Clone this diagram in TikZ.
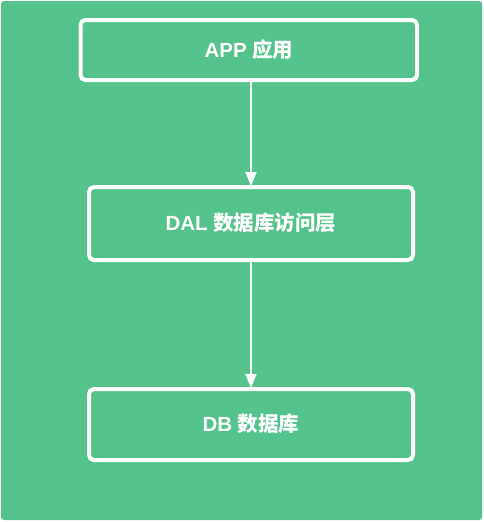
\documentclass[tikz,border=0pt]{standalone}
\usepackage{fontspec}
\setmainfont{Liberation Sans}
\newfontfamily\cjk{Noto Sans CJK SC}
\usetikzlibrary{arrows.meta}
\definecolor{bggreen}{HTML}{53C28B}
\tikzset{
  layerbox/.style={draw=white, line width=4pt, rounded corners=5pt},
  layertext/.style={text=white, font=\fontsize{20.5}{24}\selectfont\bfseries},
  flow/.style={draw=white, line width=2pt, -{Triangle[width=11pt,length=14pt]}}
}
\begin{document}
\begin{tikzpicture}[x=1pt,y=-1pt]
\useasboundingbox (0,0) rectangle (484,522);
\fill[bggreen, rounded corners=3pt] (1,1) rectangle (482,520);
\draw[layerbox] (80.5,20) rectangle (417,80);
\node[layertext] (app) at (249,49.5) {APP {\cjk 应用}};
\draw[layerbox] (89,187) rectangle (413,260);
\node[layertext] (dal) at (251,223) {DAL {\cjk 数据库访问层}};
\draw[layerbox] (89,389) rectangle (413,460);
\node[layertext] (db) at (251,424) {DB {\cjk 数据库}};
\coordinate (a1) at (251,82);
\coordinate (a2) at (251,186);
\coordinate (a3) at (251,262);
\coordinate (a4) at (251,388);
\draw[flow] (a1) -- (a2);
\draw[flow] (a3) -- (a4);
\end{tikzpicture}
\end{document}
